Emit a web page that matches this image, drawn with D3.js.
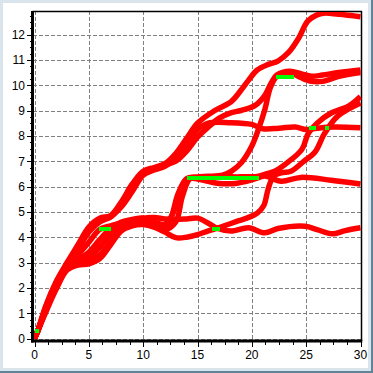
<!DOCTYPE html>
<html>
<head>
<meta charset="utf-8">
<script src="https://cdn.jsdelivr.net/npm/d3@7"></script>
<style>
  html, body { margin: 0; padding: 0; background: #dae4ed; }
  svg { display: block; }
</style>
</head>
<body>
<div id="chart"></div>
<script>
// x ticks / y ticks
const xTicks = [0, 5, 10, 15, 20, 25, 30]
const yTicks = [0, 1, 2, 3, 4, 5, 6, 7, 8, 9, 10, 11, 12]

// trajectories (x, y)
const pathA = [[0,0],[0.3,0.3],[1,1.25],[2,2.25],[3,3.0],[4,3.7],[5,4.4],[6,4.75],[7,4.85],[8,5.4],[9,6.1],[10,6.6],[11,6.75],[12,6.9],[13,7.3],[14,7.9],[15,8.5],[16.6,9.0],[18.1,9.35],[19,9.8],[19.7,10.2],[20.5,10.6],[21.5,10.82],[22.4,10.95],[23.4,11.3],[24.3,11.85],[25.2,12.55],[26.4,12.83],[28,12.8],[30,12.7]]
const pathB = [[0,0],[0.3,0.3],[1,1.2],[2,2.2],[3,2.95],[4,3.6],[5,4.3],[6,4.7],[7,4.8],[8,5.3],[9,5.95],[10,6.55],[11,6.7],[12,6.85],[13,7.0],[14,7.4],[15,7.95],[16,8.35],[17,8.7],[18,8.9],[19,9.0],[20.3,9.2],[21.2,9.6],[21.8,10.1],[22.3,10.4],[23.5,10.55],[24.5,10.45],[25.5,10.35],[26.5,10.4],[28,10.5],[30,10.6]]
const pathC = [[0,0],[0.3,0.3],[1,1.1],[2,2.05],[3,2.8],[4,3.1],[5,3.4],[6,3.9],[7,4.35],[8,4.6],[9,4.7],[10,4.75],[11,4.6],[12,4.5],[12.8,5.0],[13.4,5.8],[14,6.3],[15,6.38],[16,6.4],[17.3,6.45],[18.1,6.6],[19.05,6.95],[20,7.6],[20.6,8.25],[21.2,9.04],[21.7,9.9],[22.3,10.35],[23.5,10.5],[24.5,10.3],[25.5,10.15],[26.5,10.15],[28,10.35],[30,10.5]]
const pathD = [[0,0],[0.3,0.3],[1,1.05],[2,2.0],[3,2.75],[4,2.95],[5,3.0],[6,3.3],[7,3.8],[8,4.3],[9,4.5],[10,4.6],[11,4.5],[12,4.3],[13,4.6],[13.6,5.6],[14.3,6.3],[15,6.35],[17,6.38],[19,6.38],[20.5,6.4],[21.3,6.5],[22.1,6.6],[23.3,6.95],[24.6,7.46],[25.2,8.1],[26,8.5],[27.3,8.9],[28.9,9.17],[30,9.55]]
const pathE = [[0,0],[0.3,0.3],[1,1.0],[2,1.95],[3,2.7],[4,2.9],[5,2.95],[6,3.15],[7,3.7],[8,4.25],[9,4.45],[10,4.5],[11,4.4],[12,4.2],[13,3.98],[14,4.0],[15,4.1],[16,4.25],[16.8,4.35],[17.8,4.5],[18.8,4.65],[19.7,4.78],[20.5,4.95],[21.1,5.25],[21.5,5.9],[22,6.4],[22.8,6.55],[23.6,6.6],[24.8,7.0],[25.8,7.35],[26.7,8.1],[27.9,8.78],[30,9.3]]
const pathF = [[0,0],[0.3,0.3],[1,1.15],[2,2.15],[3,2.9],[4,3.5],[5,4.2],[6,4.6],[7,4.8],[8,5.2],[9,5.8],[10,6.45],[11,6.65],[12,6.8],[13,7.1],[14,7.6],[15,8.25],[16,8.5],[18,8.52],[20,8.45],[21,8.28],[22.5,8.3],[24,8.35],[25,8.25],[26,8.3],[27.5,8.35],[30,8.32]]
const pathG = [[0,0],[0.3,0.3],[1,1.08],[2,2.02],[3,2.78],[4,3.0],[5,3.2],[6,3.6],[7,4.1],[8,4.5],[9,4.65],[10,4.7],[11,4.55],[12,4.35],[12.6,4.8],[13.2,5.7],[14,6.3],[15,6.3],[16,6.2],[17,6.12],[18.5,6.12],[19.5,6.2],[20.5,6.33],[21.2,6.41],[22.7,6.21],[24.5,6.36],[27.3,6.25],[30,6.1]]
const pathH = [[0,0],[0.3,0.3],[1,1.12],[2,2.1],[3,2.85],[4,3.3],[5,3.8],[6,4.3],[7,4.45],[8,4.55],[9,4.65],[10,4.75],[11,4.78],[12,4.72],[13,4.7],[14,4.72],[15,4.75],[16,4.55],[16.8,4.35],[18.1,4.24],[19.7,4.37],[21.2,4.17],[22.4,4.34],[24.9,4.43],[26,4.3],[27.4,4.13],[28.6,4.26],[30,4.37]]

// green flat stretches: [x start, x end, y]
const flats = [[0, 0.45, 0.3], [5.9, 7.0, 4.33], [14.0, 20.7, 6.33], [16.3, 17.1, 4.33], [22.2, 23.9, 10.32], [25.3, 25.9, 8.3], [26.75, 27.1, 8.3]]

const paths = [pathA, pathB, pathC, pathD, pathE, pathF, pathG, pathH]

const W = 373, H = 373
const svg = d3.select("#chart").append("svg")
    .attr("width", W)
    .attr("height", H)

// window frame
svg.append("rect").attr("x", 0).attr("y", 0).attr("width", W).attr("height", H).attr("fill", "#dae4ed")
svg.append("rect").attr("x", 3).attr("y", 3).attr("width", 365).attr("height", 365).attr("fill", "#ffffff")
svg.append("rect").attr("x", 371).attr("y", 0).attr("width", 2).attr("height", H).attr("fill", "#5f8397")
svg.append("rect").attr("x", 0).attr("y", 371).attr("width", W).attr("height", 2).attr("fill", "#5f8397")

let x = d3.scaleLinear().domain([0, 30]).range([34.5, 360.5])
let y = d3.scaleLinear().domain([0, 12]).range([338.5, 34.5])

const plotLeft = 32.5, plotRight = 361.5, plotTop = 11, plotBottom = 341

// grid
let grid = svg.append("g").attr("class", "grid")
    .attr("stroke", "#808080")
    .attr("stroke-width", 1)
    .attr("stroke-dasharray", "4,2")
    .attr("shape-rendering", "crispEdges")

grid.selectAll(".vx").data(xTicks).enter().append("line")
    .attr("x1", d => Math.round(x(d)) + 0.5).attr("x2", d => Math.round(x(d)) + 0.5)
    .attr("y1", plotTop).attr("y2", plotBottom)

grid.selectAll(".hy").data(yTicks).enter().append("line")
    .attr("y1", d => Math.round(y(d)) + 0.5).attr("y2", d => Math.round(y(d)) + 0.5)
    .attr("x1", plotLeft).attr("x2", plotRight)

// top + right thin border
svg.append("line").attr("x1", plotLeft).attr("x2", plotRight + 0.5).attr("y1", plotTop + 0.5).attr("y2", plotTop + 0.5)
    .attr("stroke", "#000").attr("stroke-width", 1.5)
svg.append("line").attr("x1", plotRight).attr("x2", plotRight).attr("y1", plotTop).attr("y2", plotBottom)
    .attr("stroke", "#000").attr("stroke-width", 1.5)

// trajectories
let line = d3.line()
    .x(d => x(d[0]))
    .y(d => y(d[1]))
    .curve(d3.curveCatmullRom.alpha(0.5))

let clip = svg.append("clipPath").attr("id", "plotclip")
    .append("rect").attr("x", plotLeft + 1).attr("y", plotTop + 1)
    .attr("width", plotRight - plotLeft - 1).attr("height", plotBottom - plotTop)

let gLines = svg.append("g").attr("clip-path", "url(#plotclip)")
gLines.selectAll("path").data(paths).enter().append("path")
    .attr("d", line)
    .attr("fill", "none")
    .attr("stroke", "#ff0000")
    .attr("stroke-width", 5.5)
    .attr("stroke-linejoin", "round")
    .attr("stroke-linecap", "butt")

gLines.selectAll(".flat").data(flats).enter().append("line")
    .attr("class", "flat")
    .attr("x1", d => x(d[0])).attr("x2", d => x(d[1]))
    .attr("y1", d => y(d[2])).attr("y2", d => y(d[2]))
    .attr("stroke", "#00ff00")
    .attr("stroke-width", 4)
    .attr("shape-rendering", "crispEdges")

// axes: thick left + bottom
svg.append("line").attr("x1", plotLeft).attr("x2", plotLeft).attr("y1", plotTop).attr("y2", plotBottom + 1.5)
    .attr("stroke", "#000").attr("stroke-width", 3)
svg.append("line").attr("x1", plotLeft - 1.5).attr("x2", plotRight + 0.75).attr("y1", plotBottom).attr("y2", plotBottom)
    .attr("stroke", "#000").attr("stroke-width", 3)

// minor ticks
let ticksG = svg.append("g").attr("stroke", "#000").attr("stroke-width", 1).attr("shape-rendering", "crispEdges")
ticksG.selectAll(".mx").data(d3.range(0, 30.01, 1.25)).enter().append("line")
    .attr("x1", d => Math.round(x(d)) + 0.5).attr("x2", d => Math.round(x(d)) + 0.5)
    .attr("y1", plotBottom + 1).attr("y2", d => plotBottom + (d % 5 === 0 ? 6 : 4))
ticksG.selectAll(".my").data(d3.range(0, 12.9, 0.25)).enter().append("line")
    .attr("y1", d => Math.round(y(d)) + 0.5).attr("y2", d => Math.round(y(d)) + 0.5)
    .attr("x1", plotLeft - 1).attr("x2", d => plotLeft - (d % 1 === 0 ? 6 : 3))

// labels
svg.append("g").selectAll("text").data(xTicks).enter().append("text")
    .attr("x", d => x(d)).attr("y", 359)
    .attr("text-anchor", "middle")
    .attr("font-family", "Liberation Sans, Arial, sans-serif")
    .attr("font-size", 12)
    .attr("fill", "#000")
    .text(d => d)

svg.append("g").selectAll("text").data(yTicks).enter().append("text")
    .attr("x", 25).attr("y", d => y(d) + 4.5)
    .attr("text-anchor", "end")
    .attr("font-family", "Liberation Sans, Arial, sans-serif")
    .attr("font-size", 12)
    .attr("fill", "#000")
    .text(d => d)
</script>
</body>
</html>
